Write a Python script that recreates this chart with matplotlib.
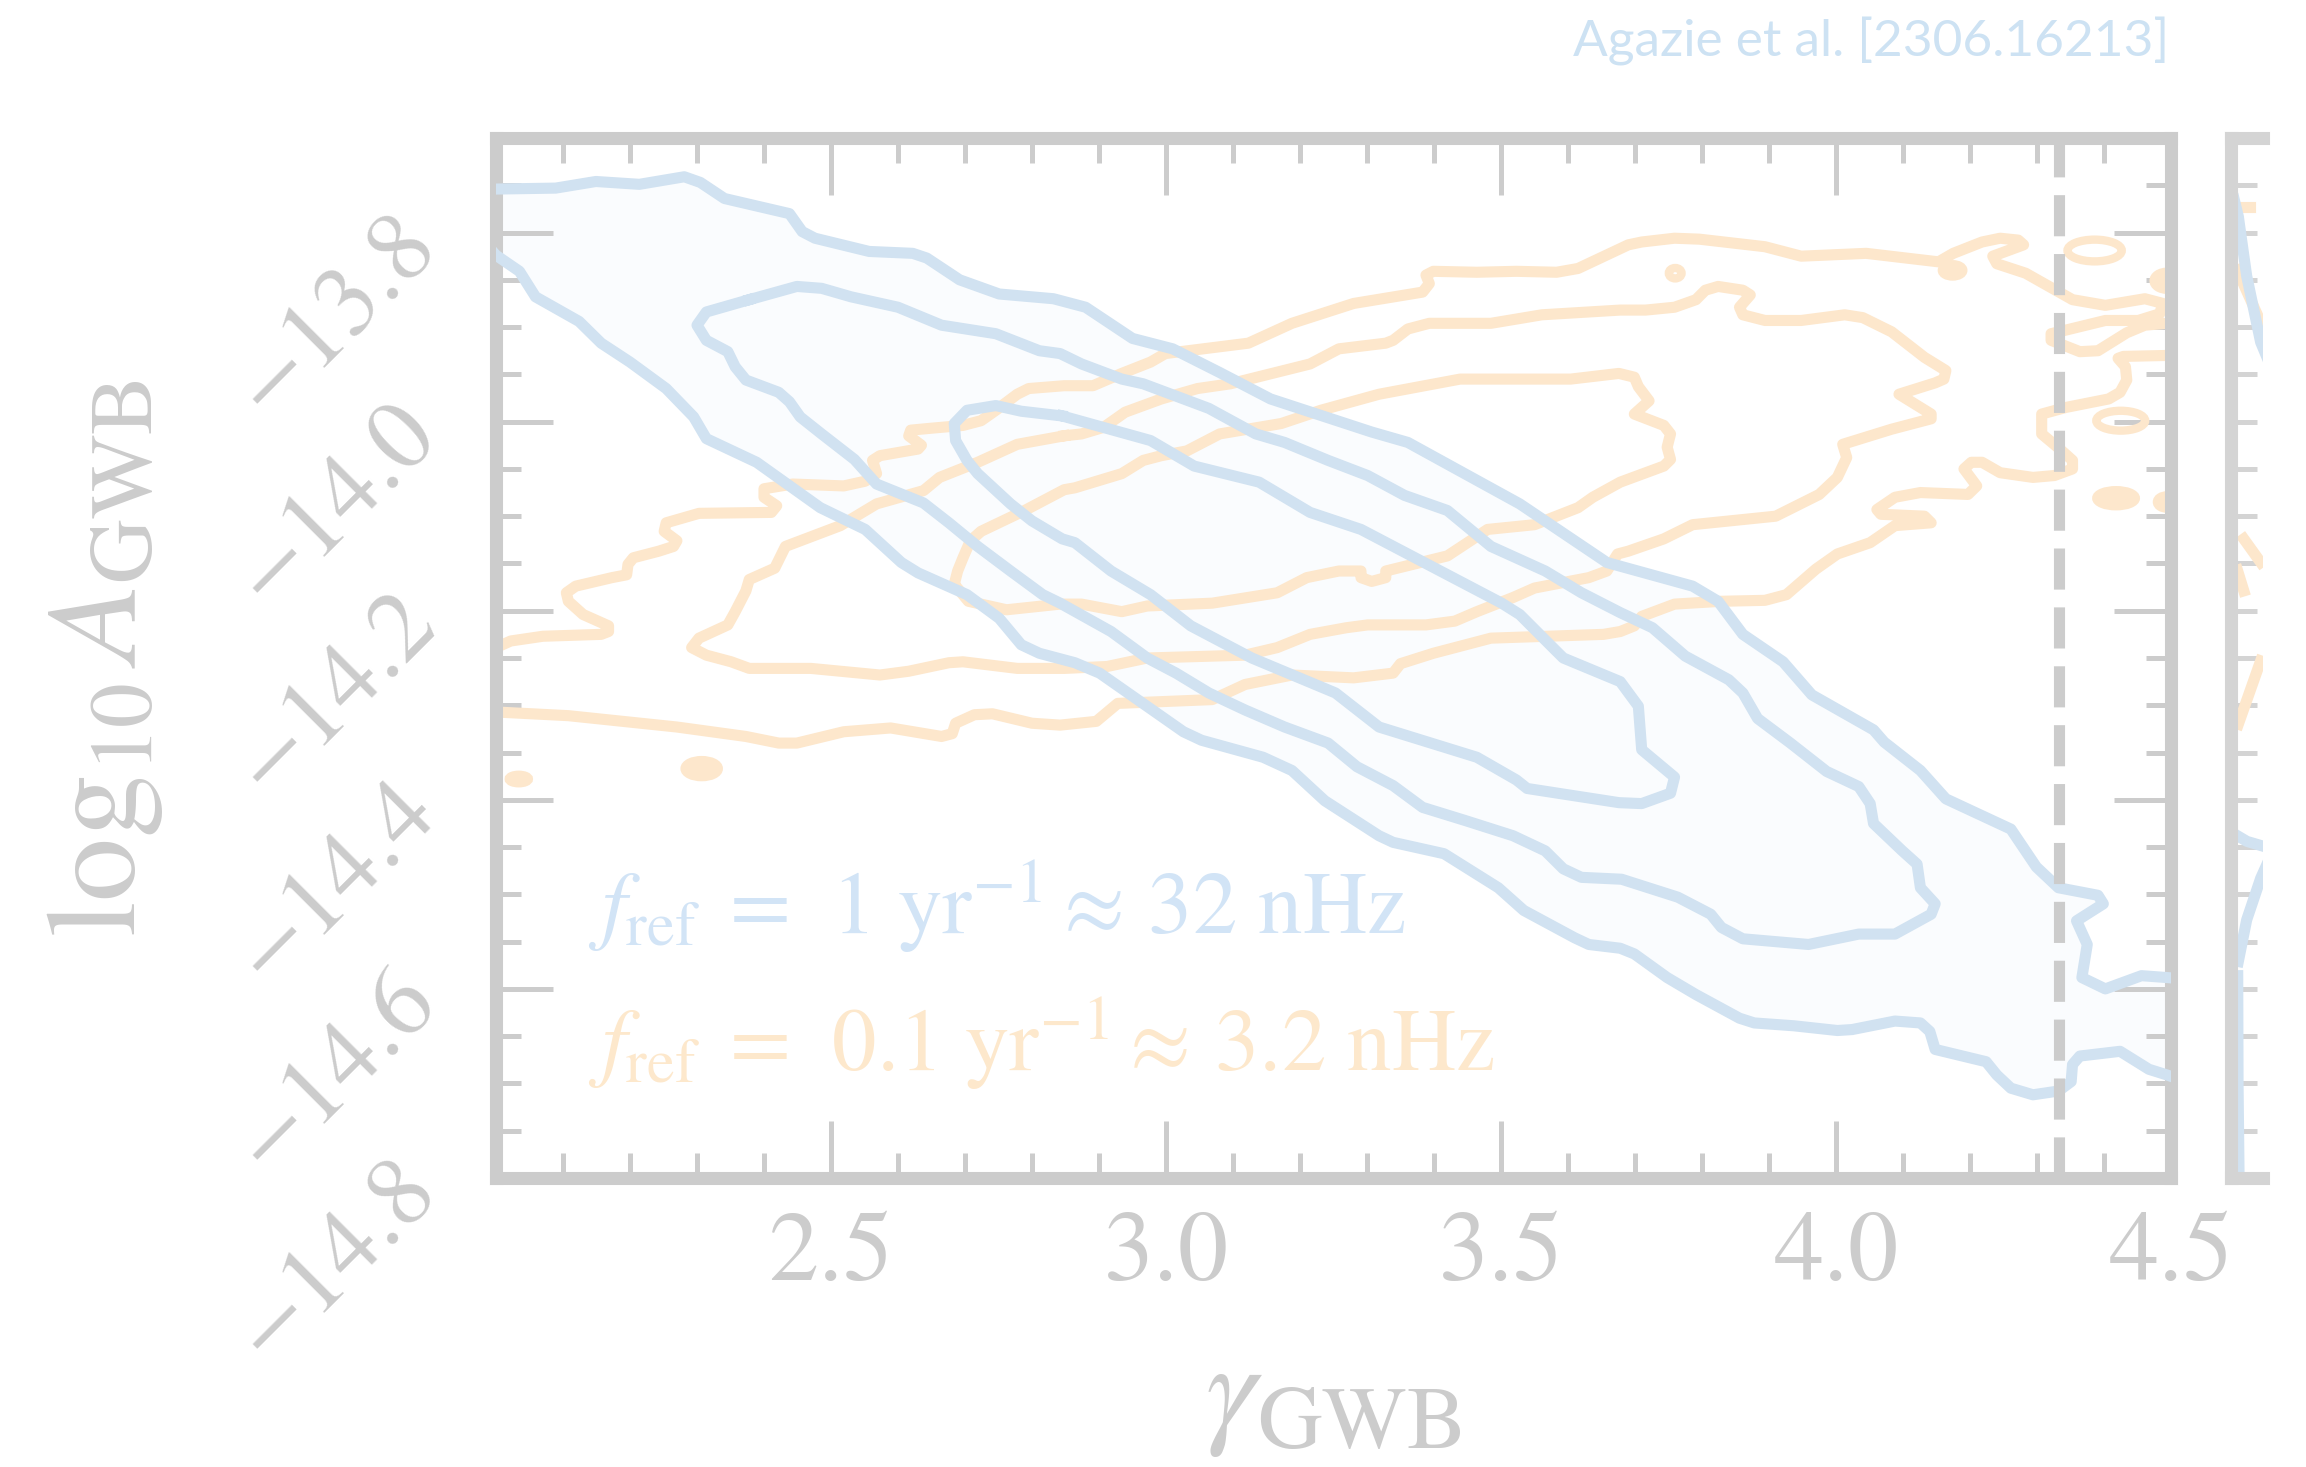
import numpy as np
import matplotlib
matplotlib.use("Agg")
import matplotlib.pyplot as plt
from matplotlib.patches import Ellipse
from matplotlib.ticker import MultipleLocator, FormatStrFormatter

plt.rcParams['mathtext.fontset'] = 'stix'
plt.rcParams['font.family'] = ['STIXGeneral', 'DejaVu Serif']

GREY = '#cccccc'
BLUE = '#d1e2f1'
ORANGE = '#fde7cc'
FILL = '#fafcfe'

# ---- contours (gamma, log10 A) ----
# f_ref = 1/yr : three nested levels
blue_outer = np.array([
    (1.97, -13.754), (2.000, -13.754), (2.089, -13.753), (2.149, -13.746), (2.214, -13.749),
    (2.281, -13.741), (2.305, -13.747), (2.341, -13.764), (2.438, -13.780), (2.457, -13.799),
    (2.476, -13.806), (2.557, -13.820), (2.622, -13.822), (2.643, -13.827), (2.692, -13.850),
    (2.751, -13.865), (2.832, -13.870), (2.880, -13.879), (2.950, -13.912), (3.010, -13.923),
    (3.080, -13.948), (3.156, -13.976), (3.307, -14.011), (3.361, -14.022), (3.528, -14.087),
    (3.658, -14.149), (3.786, -14.174), (3.824, -14.190), (3.861, -14.225), (3.921, -14.254),
    (3.964, -14.289), (4.056, -14.326), (4.072, -14.339), (4.126, -14.369), (4.164, -14.399),
    (4.261, -14.431), (4.299, -14.471), (4.332, -14.493), (4.391, -14.501), (4.399, -14.510),
    (4.359, -14.528), (4.375, -14.553), (4.367, -14.588), (4.402, -14.600), (4.456, -14.586),
    (4.494, -14.588), (4.53, -14.590), (4.53, -14.700), (4.494, -14.691), (4.467, -14.685),
    (4.424, -14.666), (4.364, -14.671), (4.353, -14.680), (4.351, -14.698), (4.332, -14.708),
    (4.294, -14.712), (4.261, -14.705), (4.240, -14.691), (4.224, -14.677), (4.148, -14.664),
    (4.140, -14.645), (4.126, -14.636), (4.088, -14.634), (4.024, -14.643), (4.002, -14.644),
    (3.937, -14.639), (3.878, -14.636), (3.856, -14.631), (3.791, -14.606), (3.748, -14.588),
    (3.699, -14.563), (3.678, -14.557), (3.631, -14.553), (3.610, -14.546), (3.534, -14.517),
    (3.496, -14.493), (3.415, -14.457), (3.339, -14.445), (3.318, -14.438), (3.237, -14.401),
    (3.188, -14.369), (3.145, -14.355), (3.053, -14.337), (3.026, -14.328), (2.901, -14.266),
    (2.864, -14.255), (2.811, -14.245), (2.784, -14.236), (2.751, -14.208), (2.703, -14.183),
    (2.630, -14.160), (2.605, -14.149), (2.551, -14.114), (2.484, -14.091), (2.389, -14.043),
    (2.314, -14.018), (2.295, -13.995), (2.254, -13.965), (2.200, -13.937), (2.157, -13.917),
    (2.124, -13.894), (2.059, -13.868), (2.035, -13.841), (2.000, -13.824), (1.97, -13.800),
])

blue_mid = np.array([
    (2.378, -13.871), (2.314, -13.884), (2.300, -13.898), (2.314, -13.914), (2.346, -13.926),
    (2.357, -13.942), (2.373, -13.956), (2.422, -13.969), (2.438, -13.979), (2.454, -13.995),
    (2.486, -14.013), (2.535, -14.040), (2.568, -14.066), (2.638, -14.086), (2.676, -14.107),
    (2.719, -14.132), (2.768, -14.158), (2.816, -14.183), (2.842, -14.192), (2.918, -14.222),
    (2.972, -14.250), (3.015, -14.266), (3.064, -14.287), (3.118, -14.305), (3.177, -14.323),
    (3.242, -14.340), (3.285, -14.365), (3.339, -14.385), (3.383, -14.408), (3.447, -14.422),
    (3.518, -14.438), (3.566, -14.454), (3.593, -14.473), (3.620, -14.482), (3.680, -14.484),
    (3.764, -14.503), (3.813, -14.521), (3.829, -14.535), (3.861, -14.547), (3.959, -14.553),
    (4.034, -14.542), (4.088, -14.542), (4.142, -14.521), (4.148, -14.510), (4.126, -14.493),
    (4.121, -14.468), (4.099, -14.454), (4.056, -14.425), (4.051, -14.404), (4.034, -14.386),
    (3.986, -14.370), (3.932, -14.340), (3.883, -14.314), (3.861, -14.287), (3.840, -14.273),
    (3.775, -14.248), (3.726, -14.218), (3.678, -14.202), (3.620, -14.181), (3.566, -14.158),
    (3.485, -14.132), (3.420, -14.094), (3.356, -14.078), (3.301, -14.057), (3.242, -14.041),
    (3.177, -14.022), (3.134, -14.013), (3.064, -13.986), (2.966, -13.960), (2.934, -13.955),
    (2.874, -13.939), (2.842, -13.928), (2.811, -13.925), (2.746, -13.907), (2.665, -13.898),
    (2.600, -13.879), (2.530, -13.868), (2.486, -13.859), (2.449, -13.857),
])

blue_inner = np.array([
    (2.845, -13.994), (2.784, -13.989), (2.746, -13.983), (2.703, -13.988), (2.684, -14.002),
    (2.686, -14.020), (2.703, -14.041), (2.719, -14.055), (2.768, -14.087), (2.800, -14.105),
    (2.845, -14.124), (2.864, -14.128), (2.918, -14.158), (2.977, -14.183), (3.037, -14.216),
    (3.128, -14.250), (3.253, -14.287), (3.318, -14.323), (3.464, -14.355), (3.523, -14.379),
    (3.539, -14.388), (3.676, -14.403), (3.710, -14.404), (3.753, -14.393), (3.759, -14.376),
    (3.710, -14.347), (3.705, -14.301), (3.678, -14.275), (3.593, -14.250), (3.583, -14.243),
    (3.528, -14.204), (3.501, -14.192), (3.291, -14.114), (3.215, -14.096), (3.139, -14.064),
    (3.042, -14.047), (2.977, -14.020),
])

# f_ref = 0.1/yr : outer level runs past both side edges
orange_outer = np.array([
    (1.97, -14.240), (2.000, -14.239), (2.022, -14.232), (2.070, -14.227), (2.157, -14.225),
    (2.168, -14.222), (2.168, -14.216), (2.130, -14.204), (2.108, -14.190), (2.105, -14.181),
    (2.119, -14.174), (2.173, -14.165), (2.195, -14.162), (2.197, -14.151), (2.205, -14.144),
    (2.243, -14.137), (2.265, -14.132), (2.270, -14.126), (2.251, -14.116), (2.254, -14.107),
    (2.303, -14.097), (2.411, -14.096), (2.419, -14.089), (2.400, -14.080), (2.400, -14.071),
    (2.443, -14.066), (2.519, -14.068), (2.551, -14.063), (2.568, -14.055), (2.562, -14.041),
    (2.573, -14.036), (2.630, -14.029), (2.635, -14.025), (2.616, -14.015), (2.619, -14.009),
    (2.649, -14.007), (2.697, -14.004), (2.724, -13.999), (2.746, -13.988), (2.778, -13.971),
    (2.795, -13.965), (2.848, -13.962), (2.891, -13.962), (2.934, -13.949), (2.977, -13.937),
    (2.999, -13.928), (3.123, -13.917), (3.188, -13.896), (3.280, -13.875), (3.383, -13.863),
    (3.393, -13.854), (3.388, -13.845), (3.399, -13.841), (3.464, -13.842), (3.523, -13.841),
    (3.583, -13.842), (3.615, -13.838), (3.690, -13.813), (3.710, -13.810), (3.759, -13.806),
    (3.796, -13.807), (3.894, -13.815), (3.948, -13.825), (4.045, -13.822), (4.153, -13.831),
    (4.175, -13.822), (4.218, -13.810), (4.245, -13.806), (4.272, -13.808), (4.280, -13.813),
    (4.234, -13.825), (4.240, -13.833), (4.283, -13.843), (4.353, -13.871), (4.402, -13.877),
    (4.461, -13.870), (4.488, -13.875), (4.483, -13.886), (4.451, -13.893), (4.402, -13.893),
    (4.321, -13.907), (4.321, -13.914), (4.364, -13.926), (4.391, -13.925), (4.434, -13.906),
    (4.461, -13.898), (4.494, -13.896), (4.53, -13.895), (4.53, -13.929), (4.494, -13.930),
    (4.429, -13.931), (4.421, -13.933), (4.432, -13.942), (4.434, -13.956), (4.424, -13.969),
    (4.407, -13.976), (4.343, -13.985), (4.307, -13.992), (4.307, -14.013), (4.334, -14.029),
    (4.353, -14.041), (4.353, -14.050), (4.326, -14.057), (4.294, -14.059), (4.245, -14.054),
    (4.218, -14.043), (4.202, -14.043), (4.191, -14.050), (4.210, -14.068), (4.197, -14.077),
    (4.126, -14.075), (4.088, -14.080), (4.061, -14.093), (4.067, -14.098), (4.132, -14.100),
    (4.142, -14.107), (4.088, -14.110), (4.051, -14.128), (4.002, -14.140), (3.970, -14.156),
    (3.926, -14.183), (3.894, -14.189), (3.829, -14.190), (3.759, -14.193), (3.710, -14.206),
    (3.699, -14.216), (3.678, -14.222), (3.653, -14.225), (3.485, -14.229), (3.399, -14.245),
    (3.350, -14.256), (3.339, -14.266), (3.280, -14.271), (3.188, -14.268), (3.118, -14.278),
    (3.069, -14.294), (2.928, -14.298), (2.896, -14.317), (2.842, -14.321), (2.800, -14.319),
    (2.741, -14.309), (2.714, -14.310), (2.686, -14.319), (2.681, -14.330), (2.665, -14.333),
    (2.589, -14.324), (2.519, -14.328), (2.449, -14.340), (2.422, -14.340), (2.373, -14.333),
    (2.270, -14.323), (2.108, -14.311), (2.000, -14.307), (1.97, -14.306),
])

orange_mid = np.array([
    (2.848, -14.015), (2.778, -14.024), (2.719, -14.043), (2.662, -14.059), (2.638, -14.073),
    (2.568, -14.087), (2.514, -14.110), (2.432, -14.132), (2.416, -14.155), (2.378, -14.167),
    (2.373, -14.179), (2.357, -14.201), (2.346, -14.215), (2.303, -14.229), (2.292, -14.239),
    (2.314, -14.247), (2.351, -14.254), (2.378, -14.261), (2.470, -14.261), (2.573, -14.268),
    (2.616, -14.264), (2.676, -14.255), (2.697, -14.254), (2.778, -14.261), (2.848, -14.261),
    (2.912, -14.259), (2.972, -14.250), (3.118, -14.247), (3.166, -14.239), (3.215, -14.225),
    (3.269, -14.218), (3.301, -14.215), (3.388, -14.215), (3.431, -14.211), (3.464, -14.201),
    (3.518, -14.186), (3.550, -14.176), (3.631, -14.165), (3.658, -14.158), (3.674, -14.140),
    (3.690, -14.137), (3.743, -14.124), (3.786, -14.109), (3.910, -14.100), (3.975, -14.077),
    (4.002, -14.059), (4.016, -14.038), (4.010, -14.024), (4.083, -14.008), (4.142, -13.997),
    (4.142, -13.992), (4.094, -13.971), (4.148, -13.959), (4.161, -13.955), (4.164, -13.946),
    (4.132, -13.932), (4.083, -13.905), (4.040, -13.890), (4.013, -13.887), (3.948, -13.893),
    (3.894, -13.893), (3.861, -13.887), (3.856, -13.879), (3.872, -13.866), (3.861, -13.861),
    (3.824, -13.857), (3.805, -13.861), (3.791, -13.871), (3.759, -13.879), (3.716, -13.882),
    (3.678, -13.882), (3.561, -13.887), (3.485, -13.896), (3.393, -13.896), (3.361, -13.902),
    (3.339, -13.914), (3.328, -13.917), (3.258, -13.923), (3.215, -13.939), (3.096, -13.960),
    (3.047, -13.965), (2.993, -13.976), (2.939, -13.990), (2.907, -14.006), (2.874, -14.013),
])

orange_inner = np.array([
    (2.684, -14.172), (2.689, -14.158), (2.697, -14.144), (2.708, -14.126), (2.724, -14.116),
    (2.789, -14.094), (2.848, -14.072), (2.864, -14.070), (2.934, -14.055), (2.966, -14.041),
    (2.993, -14.036), (3.031, -14.031), (3.080, -14.013), (3.172, -14.002), (3.231, -13.988),
    (3.318, -13.971), (3.439, -13.955), (3.604, -13.955), (3.676, -13.949), (3.699, -13.953),
    (3.705, -13.963), (3.721, -13.978), (3.699, -13.992), (3.743, -14.004), (3.753, -14.013),
    (3.748, -14.027), (3.753, -14.040), (3.743, -14.047), (3.678, -14.064), (3.637, -14.080),
    (3.615, -14.091), (3.550, -14.109), (3.480, -14.114), (3.420, -14.142), (3.328, -14.158),
    (3.328, -14.165), (3.307, -14.169), (3.291, -14.165), (3.291, -14.158), (3.258, -14.158),
    (3.210, -14.165), (3.166, -14.181), (3.069, -14.192), (2.972, -14.195), (2.934, -14.201),
    (2.874, -14.193), (2.842, -14.193), (2.762, -14.199), (2.705, -14.190),
])

# small orange islands: centre x, centre y, width, height, filled
orange_islands = [
    (3.760, -13.843, 0.019, 0.011, False),
    (4.174, -13.840, 0.032, 0.013, True),
    (4.386, -13.819, 0.081, 0.023, False),
    (4.494, -13.851, 0.040, 0.019, True),
    (4.425, -13.999, 0.073, 0.021, False),
    (4.418, -14.081, 0.059, 0.017, True),
    (4.494, -14.085, 0.030, 0.014, True),
    (2.307, -14.367, 0.051, 0.018, True),
    (2.034, -14.378, 0.030, 0.009, True),
]

gamma_smbhb = 13 / 3

# neighbouring panel (only a sliver is visible)
side_blue = [
    ([0.10, 0.229, 0.490, 0.927, 1.1], [-13.765, -13.783, -13.846, -13.916, -13.93]),
    ([0.20, 0.50, 1.0], [-14.438, -14.444, -14.449]),
    ([0.229, 0.490, 0.927, 1.1], [-14.571, -14.527, -14.483, -14.47]),
    ([0.21, 0.22, 0.25], [-14.586, -14.70, -14.793]),
]
side_orange = [
    ([0.23, 0.60], [-13.773, -13.773]),
    ([0.20, 0.93], [-13.840, -13.895]),
    ([0.40, 0.93], [-14.124, -14.149]),
    ([0.20, 0.40], [-14.157, -14.179]),
    ([0.229, 0.927], [-14.320, -14.253]),
]

x_ticks = [2.5, 3.0, 3.5, 4.0, 4.5]
y_ticks = [-13.8, -14.0, -14.2, -14.4, -14.6, -14.8]

fig = plt.figure(figsize=(23.06, 14.67), dpi=100)
ax = fig.add_axes([496 / 2306, 1 - 1178 / 1467, 1675 / 2306, 1040 / 1467])

ax.fill(blue_outer[:, 0], blue_outer[:, 1], color=FILL, lw=0, zorder=1)

lw_c = 8
for c in [orange_outer]:
    ax.plot(c[:, 0], c[:, 1], color=ORANGE, lw=lw_c, solid_joinstyle='round', zorder=2)
for c in [orange_mid, orange_inner]:
    cc = np.vstack([c, c[:1]])
    ax.plot(cc[:, 0], cc[:, 1], color=ORANGE, lw=lw_c, solid_joinstyle='round', zorder=2)
for (cx, cy, w, h, filled) in orange_islands:
    ax.add_patch(Ellipse((cx, cy), w, h, facecolor=ORANGE if filled else 'none',
                         edgecolor=ORANGE, lw=6, zorder=2))

bo = blue_outer
ax.plot(bo[:, 0], bo[:, 1], color=BLUE, lw=lw_c, solid_joinstyle='round', zorder=3)
for c in [blue_mid, blue_inner]:
    cc = np.vstack([c, c[:1]])
    ax.plot(cc[:, 0], cc[:, 1], color=BLUE, lw=lw_c, solid_joinstyle='round', zorder=3)

ax.axvline(gamma_smbhb, color=GREY, lw=8, ls='--', zorder=4)

ax.set_xlim(2.0, 4.5)
ax.set_ylim(-14.8, -13.7)
ax.set_xticks(x_ticks)
ax.set_yticks(y_ticks)
ax.xaxis.set_minor_locator(MultipleLocator(0.1))
ax.yaxis.set_minor_locator(MultipleLocator(0.05))
ax.xaxis.set_major_formatter(FormatStrFormatter('%.1f'))
ax.set_yticklabels(['\u2212%.1f' % abs(v) for v in y_ticks])

for s in ax.spines.values():
    s.set_color(GREY)
    s.set_linewidth(9.4)
ax.tick_params(which='both', direction='in', top=True, right=True, color=GREY,
               width=3.6, labelcolor=GREY, labelsize=72)
ax.tick_params(which='major', length=41)
ax.tick_params(which='minor', length=18)
ax.tick_params(axis='x', pad=24)
ax.tick_params(axis='y', pad=30)
for lab in ax.get_yticklabels():
    lab.set_rotation(45)

ax.set_xlabel(r'$\gamma_{\rm GWB}$', fontsize=92, color=GREY, labelpad=30)
ax.set_ylabel(r'$\log_{10} A_{\rm GWB}$', fontsize=92, color=GREY, labelpad=38)

ax.text(0.055, 0.2346, r'$f_{\rm ref}\;=\;\,1\ {\rm yr}^{-1}\approx\,32\ {\rm nHz}$',
        transform=ax.transAxes, fontsize=64, color='#d2e4f6', va='baseline', zorder=5)
ax.text(0.055, 0.103, r'$f_{\rm ref}\;=\;\,0.1\ {\rm yr}^{-1}\approx\,3.2\ {\rm nHz}$',
        transform=ax.transAxes, fontsize=64, color='#fde8cc', va='baseline', zorder=5)

# sliver of the next panel
ax2 = fig.add_axes([2231 / 2306, 1 - 1178 / 1467, 32 / 2306, 1040 / 1467])
for xs, ys in side_orange:
    ax2.plot(xs, ys, color=ORANGE, lw=lw_c)
for xs, ys in side_blue:
    ax2.plot(xs, ys, color=BLUE, lw=lw_c)
ax2.set_xlim(0, 1)
ax2.set_ylim(-14.8, -13.7)
ax2.set_xticks([])
ax2.yaxis.set_major_locator(MultipleLocator(0.05))
ax2.set_yticklabels([])
ax2.tick_params(axis='y', direction='in', length=19, width=3.6, color='#d4d4d4')
ax2.spines['right'].set_visible(False)
for k in ['left', 'top', 'bottom']:
    ax2.spines[k].set_color('#d4d4d4')
    ax2.spines[k].set_linewidth(9.4)

fig.text(2169 / 2306, 1 - 56 / 1467, 'Agazie et al. [2306.16213]', ha='right', va='baseline',
         fontsize=37, family='Lato', color='#cde2f3')

fig.savefig('out.png', dpi=100, facecolor='white')
